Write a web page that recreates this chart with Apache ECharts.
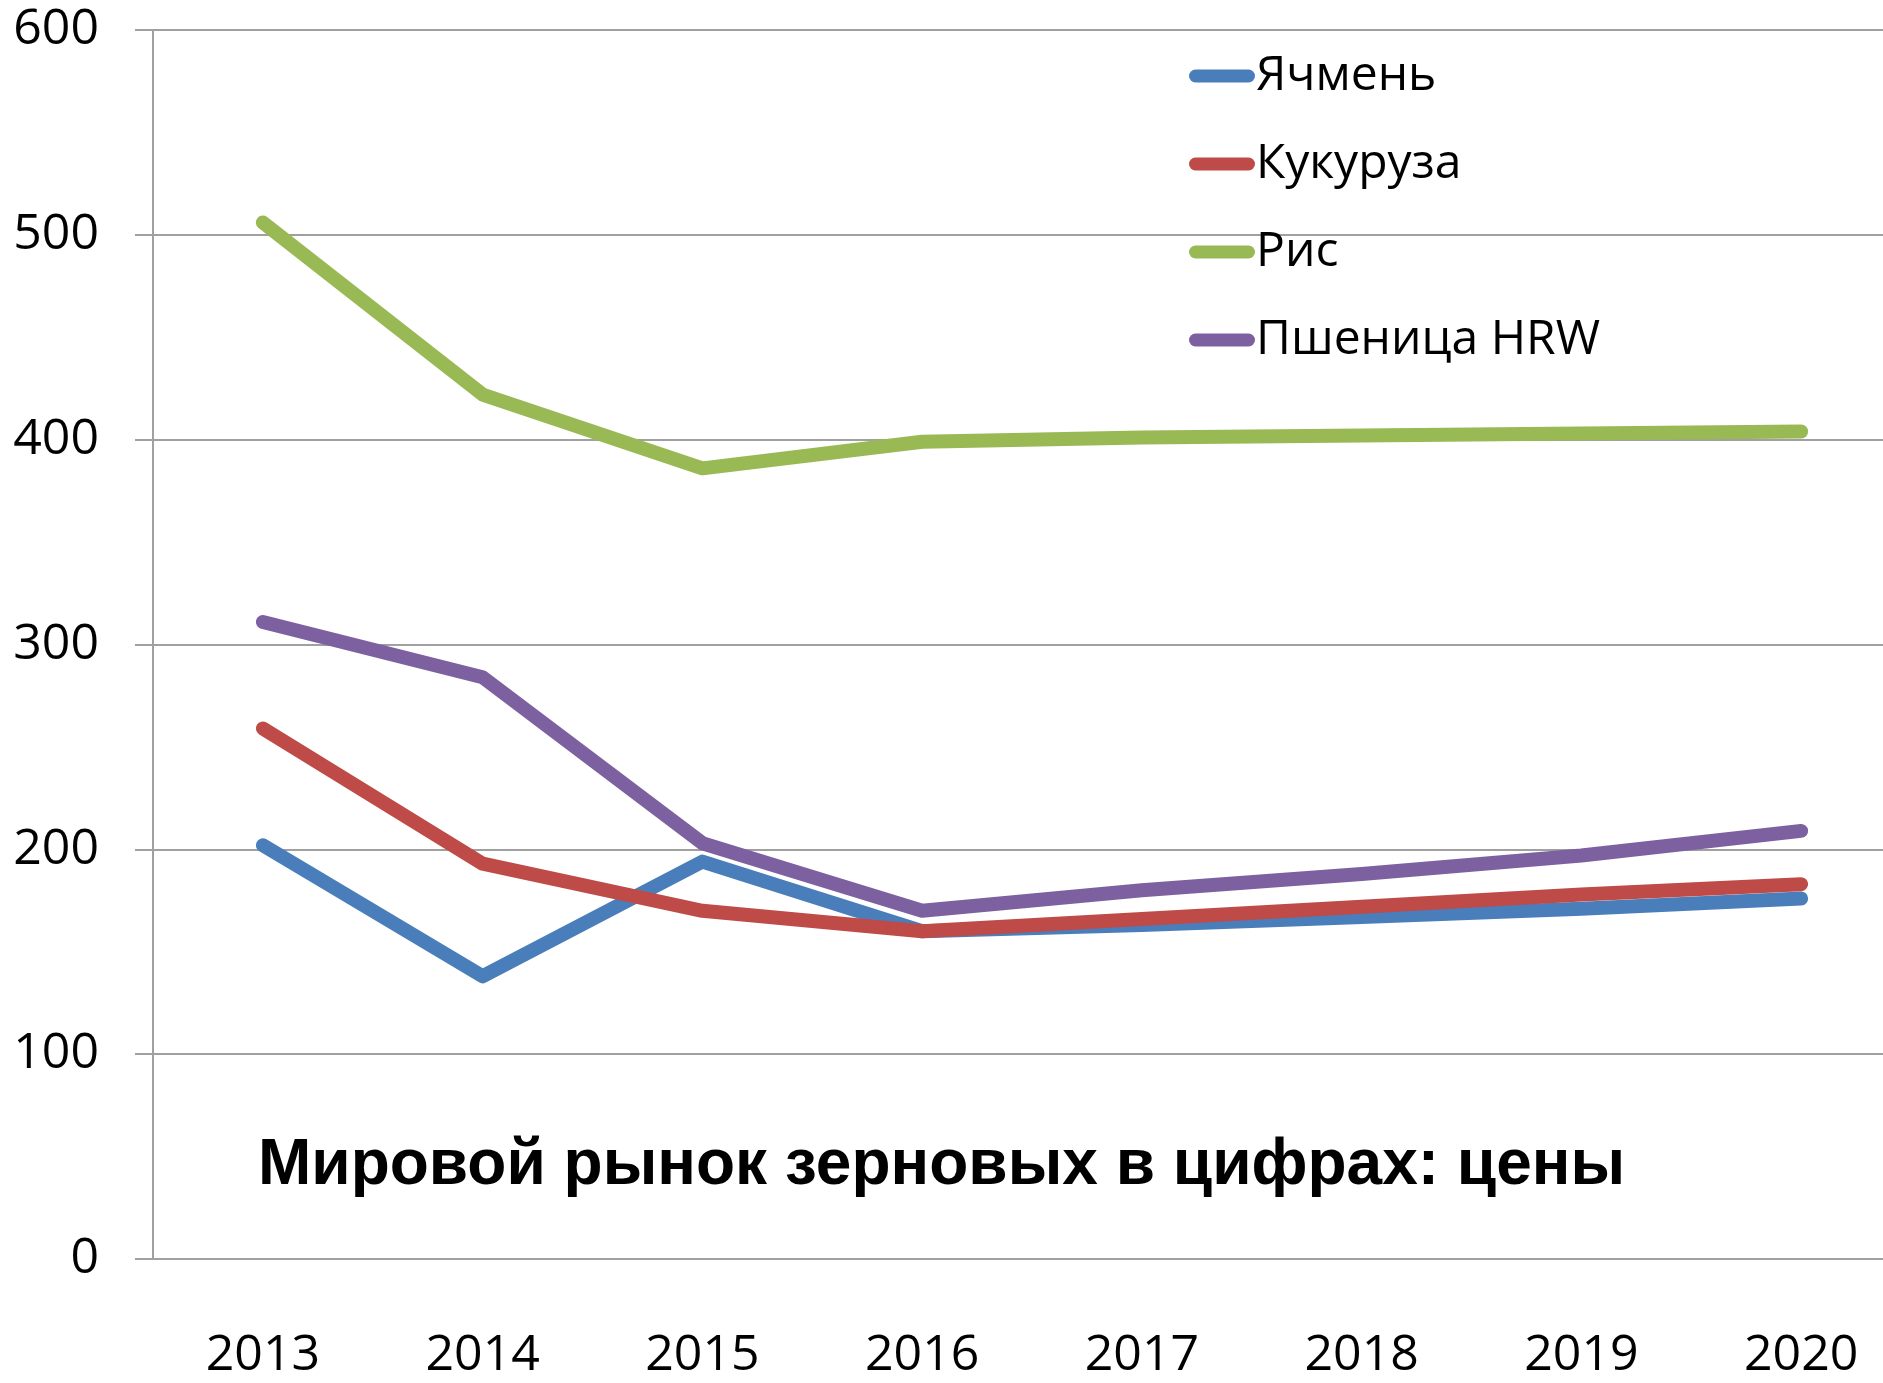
<!DOCTYPE html>
<html>
<head>
<meta charset="utf-8">
<script src="https://cdn.jsdelivr.net/npm/echarts@6/dist/echarts.min.js"></script>
<style>
html, body { margin: 0; padding: 0; background: #fff; overflow: hidden; }
#container { width: 1911px; height: 1383px; }
</style>
</head>
<body>
<div id="container"></div>
<script>
var years = ['2013', '2014', '2015', '2016', '2017', '2018', '2019', '2020'];
var barley = [202, 138, 194, 160, 163, 167, 171, 176];
var corn = [259, 193, 170, 160, 166, 172, 178, 183];
var rice = [506, 422, 386, 399, 401, 402, 403, 404];
var wheatHRW = [311, 284, 203, 170, 180, 188, 197, 209];
var yTicks = { min: 0, max: 600, step: 100 };

var FONT = 'Open Sans';
var GRAY = '#a0a0a0';
// legend marker: a short thick line with round ends
var STADIUM = 'path://M6.5,0 H59.5 A6.5,6.5 0 0 1 59.5,13 H6.5 A6.5,6.5 0 0 1 6.5,0 Z';

var charts = echarts.init(document.getElementById('container'));

function lineSeries(name, data, color) {
    return {
        name: name,
        type: 'line',
        data: data,
        showSymbol: false,
        symbol: 'none',
        color: color,
        lineStyle: { width: 14, color: color, cap: 'round', join: 'round' }
    };
}

var option = {
    backgroundColor: '#fff',
    animation: false,
    title: {
        text: 'Мировой рынок зерновых в цифрах: цены',
        left: 253,
        top: 1129,
        textStyle: { fontFamily: 'Liberation Sans', fontWeight: 'bold', fontSize: 64, color: '#000' }
    },
    legend: {
        orient: 'vertical',
        left: 1184,
        top: 41,
        itemWidth: 66,
        itemHeight: 13,
        itemGap: 28,
        icon: STADIUM,
        textStyle: { fontFamily: FONT, fontSize: 48, color: '#000', lineHeight: 60, padding: [0, 0, 0, -4] },
        data: ['Ячмень', 'Кукуруза', 'Рис', 'Пшеница HRW']
    },
    grid: { left: 153, top: 30, right: 0, bottom: 124, containLabel: false },
    xAxis: {
        type: 'category',
        data: years,
        boundaryGap: true,
        axisLine: { lineStyle: { color: GRAY, width: 2 } },
        axisTick: { length: 19, lineStyle: { color: GRAY, width: 2 } },
        axisLabel: { fontFamily: FONT, fontSize: 50, color: '#000', margin: 72 }
    },
    yAxis: {
        type: 'value',
        min: yTicks.min,
        max: yTicks.max,
        interval: yTicks.step,
        axisLine: { show: true, lineStyle: { color: GRAY, width: 2 } },
        axisTick: { show: true, length: 18, lineStyle: { color: GRAY, width: 2 } },
        splitLine: { lineStyle: { color: GRAY, width: 2 } },
        axisLabel: { fontFamily: FONT, fontSize: 50, color: '#000', margin: 54 }
    },
    series: [
        lineSeries('Ячмень', barley, '#4a7ebb'),
        lineSeries('Кукуруза', corn, '#be4b48'),
        lineSeries('Рис', rice, '#98b954'),
        lineSeries('Пшеница HRW', wheatHRW, '#7d60a0')
    ]
};

charts.setOption(option);
</script>
</body>
</html>
